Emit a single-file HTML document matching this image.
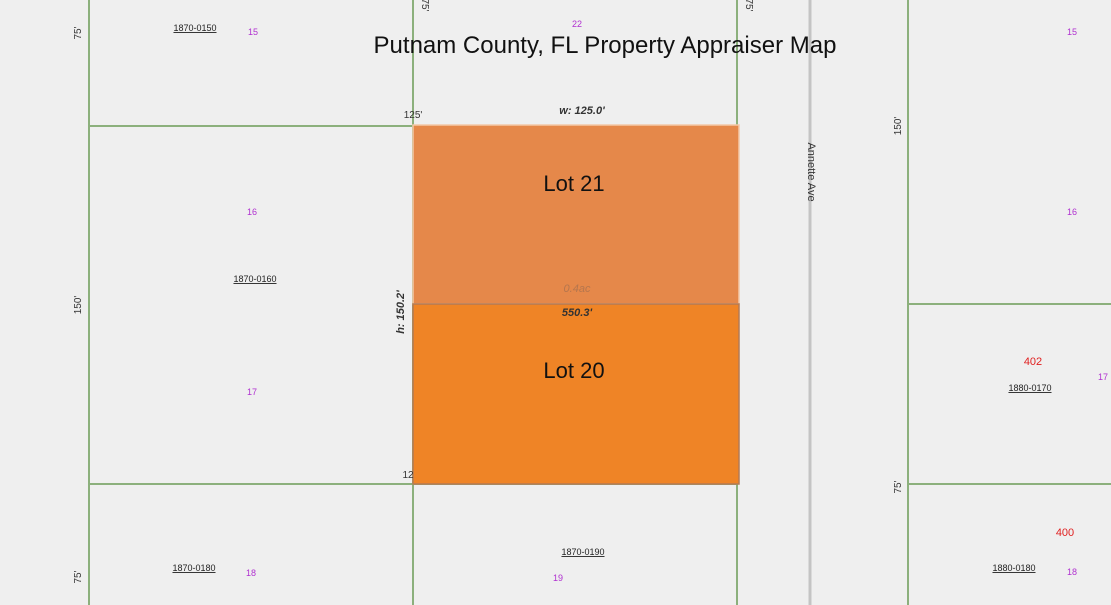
<!DOCTYPE html>
<html><head><meta charset="utf-8"><style>
html,body{margin:0;padding:0;width:1111px;height:605px;overflow:hidden;background:#efefef}
svg text{font-family:"Liberation Sans",sans-serif}
</style></head><body>
<svg width="1111" height="605" viewBox="0 0 1111 605">
<rect x="0" y="0" width="1111" height="605" fill="#efefef"/>
<g stroke="#8cb07c" stroke-width="2">
<line x1="89" y1="0" x2="89" y2="605"/>
<line x1="413" y1="0" x2="413" y2="605"/>
<line x1="737" y1="0" x2="737" y2="605"/>
<line x1="908" y1="0" x2="908" y2="605"/>
<line x1="89" y1="126" x2="413" y2="126"/>
<line x1="89" y1="484" x2="737" y2="484"/>
<line x1="908" y1="304" x2="1111" y2="304"/>
<line x1="908" y1="484" x2="1111" y2="484"/>
</g>
<line x1="810" y1="0" x2="810" y2="605" stroke="#c4c4c4" stroke-width="3"/>
<rect x="413" y="125" width="326" height="179" fill="#e5884a" stroke="#f3c9a8" stroke-width="1.5"/>
<rect x="413" y="304" width="326" height="180" fill="#ef8426" stroke="#b47a55" stroke-width="1.5"/>
<text x="605" y="53" font-size="24" text-anchor="middle" fill="#111">Putnam County, FL Property Appraiser Map</text>
<text x="574" y="191" font-size="22" text-anchor="middle" fill="#111">Lot 21</text>
<text x="574" y="378" font-size="22" text-anchor="middle" fill="#111">Lot 20</text>
<g font-style="italic" font-weight="bold" font-size="11" text-anchor="middle">
<text x="582" y="114" fill="#333">w: 125.0'</text>
<text x="577" y="292" fill="#b5764e" font-weight="normal">0.4ac</text>
<text x="577" y="316" fill="#333">550.3'</text>
<text x="0" y="0" fill="#333" transform="translate(404,312) rotate(-90)">h: 150.2'</text>
</g>
<g font-size="10" fill="#333" text-anchor="middle">
<text x="0" y="0" transform="translate(81,33) rotate(-90)">75'</text>
<text x="0" y="0" transform="translate(81,305) rotate(-90)">150'</text>
<text x="0" y="0" transform="translate(81,577) rotate(-90)">75'</text>
<text x="0" y="0" transform="translate(901,126) rotate(-90)">150'</text>
<text x="0" y="0" transform="translate(901,487) rotate(-90)">75'</text>
<text x="0" y="0" transform="translate(422,5) rotate(90)">75'</text>
<text x="0" y="0" transform="translate(746,5) rotate(90)">75'</text>
<text x="0" y="0" transform="translate(808,172) rotate(90)" font-size="11">Annette Ave</text>
<text x="413" y="118">125'</text>
<text x="408" y="478">12</text>
</g>
<g font-size="9" fill="#222" text-anchor="middle" text-decoration="underline">
<text x="195" y="31">1870-0150</text>
<text x="255" y="282">1870-0160</text>
<text x="194" y="571">1870-0180</text>
<text x="583" y="555">1870-0190</text>
<text x="1030" y="391">1880-0170</text>
<text x="1014" y="571">1880-0180</text>
</g>
<g font-size="9" fill="#b030d0" text-anchor="middle">
<text x="253" y="35">15</text>
<text x="577" y="27">22</text>
<text x="1072" y="35">15</text>
<text x="252" y="215">16</text>
<text x="1072" y="215">16</text>
<text x="252" y="395">17</text>
<text x="1103" y="380">17</text>
<text x="251" y="576">18</text>
<text x="1072" y="575">18</text>
<text x="558" y="581">19</text>
</g>
<g font-size="11" fill="#e02020" text-anchor="middle">
<text x="1033" y="365">402</text>
<text x="1065" y="536">400</text>
</g>
</svg>
</body></html>
